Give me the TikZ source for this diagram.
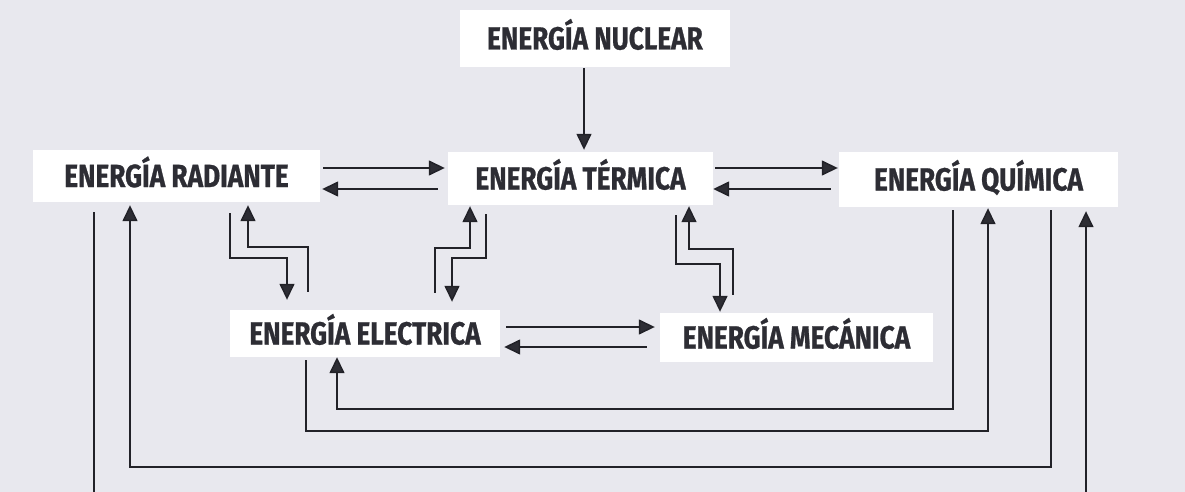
\documentclass[tikz,border=0pt]{standalone}
\usepackage{fontspec}
\newfontfamily\boxfont{Fira Sans}[FakeStretch=0.82, BoldFeatures={FakeBold=0.8}]
\usetikzlibrary{arrows.meta}
\definecolor{bg}{RGB}{232,232,238}
\definecolor{ink}{RGB}{45,45,52}
\definecolor{wire}{RGB}{34,34,40}
\tikzset{
  ebox/.style={fill=white, inner sep=0pt, text=ink, text height=22pt, text depth=0pt,
    font=\boxfont\bfseries\fontsize{32}{36}\selectfont},
  arr/.style={draw=wire, line width=1.5pt, -{Triangle[length=16pt,width=15pt,fill=ink]}},
}
\begin{document}
\begin{tikzpicture}[x=1pt,y=-1pt]
\useasboundingbox (0,0) rectangle (1185,492);
\clip (0,0) rectangle (1185,492);
\fill[bg] (0,0) rectangle (1185,492);

\node[ebox, minimum width=270pt, minimum height=57pt] (nuc) at (595,38.5) {ENERGÍA NUCLEAR};
\node[ebox, minimum width=287pt, minimum height=52pt] (rad) at (176.5,176) {ENERGÍA RADIANTE};
\node[ebox, minimum width=265pt, minimum height=53pt] (ter) at (580.5,178.5) {ENERGÍA TÉRMICA};
\node[ebox, minimum width=279pt, minimum height=55pt] (qui) at (978.5,179.5) {ENERGÍA QUÍMICA};
\node[ebox, minimum width=270pt, minimum height=47pt] (ele) at (365,333.5) {ENERGÍA ELECTRICA};
\node[ebox, minimum width=273pt, minimum height=49pt] (mec) at (796.5,337.5) {ENERGÍA MECÁNICA};

% nuclear -> termica
\draw[arr, shorten <=1pt, shorten >=2pt] (584,0 |- nuc.south) -- (584,0 |- ter.north);
% radiante <-> termica
\draw[arr, shorten <=3pt, shorten >=3pt] (rad.east |- 0,168) -- (ter.west |- 0,168);
\draw[arr, shorten <=10pt, shorten >=2pt] (ter.west |- 0,189) -- (rad.east |- 0,189);
% termica <-> quimica
\draw[arr, shorten <=2pt, shorten >=1pt] (ter.east |- 0,168) -- (qui.west |- 0,168);
\draw[arr, shorten <=8pt, shorten >=0pt] (qui.west |- 0,189) -- (ter.east |- 0,189);
% electrica <-> mecanica
\draw[arr, shorten <=6pt, shorten >=5pt] (ele.east |- 0,327) -- (mec.west |- 0,327);
\draw[arr, shorten <=13pt, shorten >=4pt] (mec.west |- 0,347) -- (ele.east |- 0,347);
% radiante <-> electrica
\draw[arr, shorten <=11pt, shorten >=10pt] (230,0 |- rad.south) |- (287,258) -- (287,0 |- ele.north);
\draw[arr, shorten <=18pt, shorten >=3pt] (308,0 |- ele.north) |- (248,247) -- (248,0 |- rad.south);
% termica <-> electrica
\draw[arr, shorten <=17pt, shorten >=1pt] (435,0 |- ele.north) |- (470,248) -- (470,0 |- ter.south);
\draw[arr, shorten <=9pt, shorten >=8pt] (486,0 |- ter.south) |- (452,258) -- (452,0 |- ele.north);
% termica <-> mecanica
\draw[arr, shorten <=10pt, shorten >=1pt] (676,0 |- ter.south) |- (720,264) -- (720,0 |- mec.north);
\draw[arr, shorten <=18pt, shorten >=1pt] (733,0 |- mec.north) |- (689,249) -- (689,0 |- ter.south);
% quimica <-> electrica
\draw[arr, shorten <=3pt] (953,0 |- qui.south) |- (337,409) -- (337,0 |- ele.south);
\draw[arr, shorten <=3pt, shorten >=1pt] (306,0 |- ele.south) |- (988,431) -- (988,0 |- qui.south);
% quimica <-> radiante
\draw[arr, shorten <=3pt, shorten >=3pt] (1051,0 |- qui.south) |- (130,467) -- (130,0 |- rad.south);
\draw[arr, shorten <=10pt, shorten >=4pt] (94,0 |- rad.south) |- (1086,530) -- (1086,0 |- qui.south);
\end{tikzpicture}
\end{document}
